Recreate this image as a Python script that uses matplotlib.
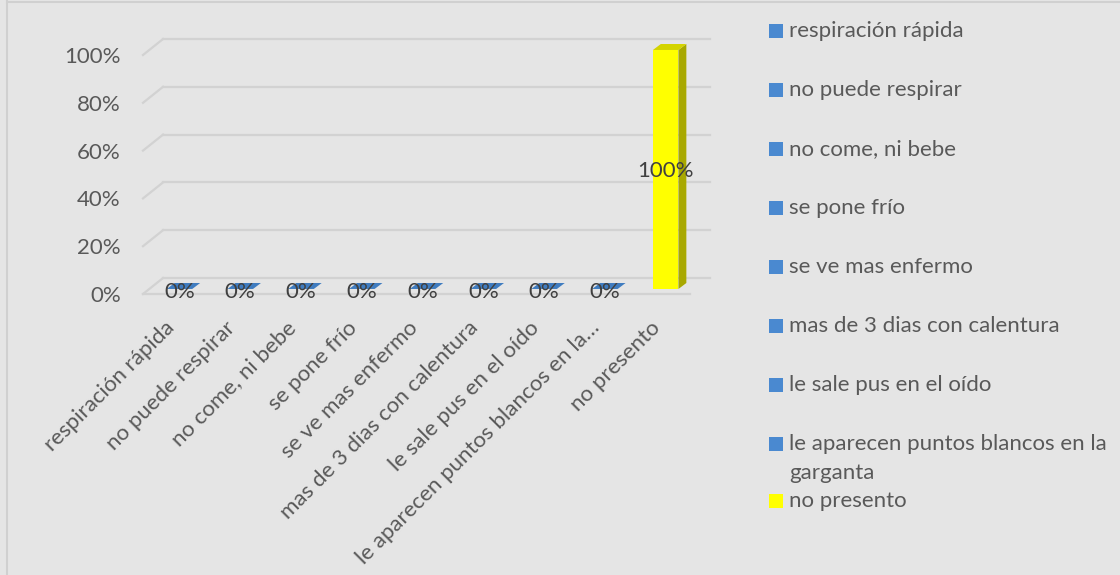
import matplotlib
matplotlib.use('Agg')
import matplotlib.pyplot as plt
from matplotlib.patches import Rectangle, Polygon
from matplotlib.lines import Line2D
import numpy as np

categorias = ['respiración rápida', 'no puede respirar', 'no come, ni bebe',
              'se pone frío', 'se ve mas enfermo', 'mas de 3 dias con calentura',
              'le sale pus en el oído', 'le aparecen puntos blancos en la garganta',
              'no presento']
etiquetas_x = ['respiración rápida', 'no puede respirar', 'no come, ni bebe',
               'se pone frío', 'se ve mas enfermo', 'mas de 3 dias con calentura',
               'le sale pus en el oído', 'le aparecen puntos blancos en la…',
               'no presento']
etiquetas_leyenda = ['respiración rápida', 'no puede respirar', 'no come, ni bebe',
                     'se pone frío', 'se ve mas enfermo', 'mas de 3 dias con calentura',
                     'le sale pus en el oído', 'le aparecen puntos blancos en la\ngarganta',
                     'no presento']
valores = [0, 0, 0, 0, 0, 0, 0, 0, 1.0]
colores = ['#4a89d0'] * 8 + ['#ffff00']
colores_lado = ['#3a6ea8'] * 8 + ['#a8a800']
colores_techo = ['#3f7cc0'] * 8 + ['#d4d400']
yticks = [0, 0.2, 0.4, 0.6, 0.8, 1.0]

fondo = '#e5e5e5'
gris_txt = '#595959'
gris_grid = '#d2d2d2'
fuente = 'Lato'
fs = 16

fig = plt.figure(figsize=(11.2, 5.75), dpi=100, facecolor=fondo)
ax = fig.add_axes([143 / 1120, (575 - 294) / 575, (690 - 143) / 1120, (294 - 55) / 575])
ax.set_facecolor('none')
n = len(categorias)
x = np.arange(n)
ax.set_xlim(-0.5, n - 0.5)
ax.set_ylim(0, 1)
for s in ax.spines.values():
    s.set_visible(False)

# profundidad (en unidades de datos)
bdx, bdy = 0.33, 0.067     # pared del fondo
sdx, sdy = 0.10, 0.021     # desplazamiento de las barras
ddx, ddy = 0.13, 0.025     # grosor de las barras
w = 0.42

# rejilla: pared trasera + pared lateral + suelo
for yv in yticks:
    ax.add_line(Line2D([-0.5 + bdx, n - 0.5 + bdx], [yv + bdy, yv + bdy],
                       color=gris_grid, lw=1.6, clip_on=False, zorder=1))
    ax.add_line(Line2D([-0.5, -0.5 + bdx], [yv, yv + bdy],
                       color=gris_grid, lw=1.6, clip_on=False, zorder=1))
ax.add_line(Line2D([-0.5, n - 0.5], [0, 0], color=gris_grid, lw=1.6,
                   clip_on=False, zorder=1))

# barras 3D
for xi, v, c, cl, ct in zip(x, valores, colores, colores_lado, colores_techo):
    x0 = xi - w / 2 + sdx
    x1 = x0 + w
    y0 = sdy
    y1 = v + sdy
    if v > 0:
        ax.add_patch(Polygon([[x1, y0], [x1 + ddx, y0 + ddy], [x1 + ddx, y1 + ddy], [x1, y1]],
                             closed=True, fc=cl, ec='none', clip_on=False, zorder=3))
        ax.bar(xi + sdx, v, bottom=sdy, width=w, color=c, zorder=4, clip_on=False)
    ax.add_patch(Polygon([[x0, y1], [x1, y1], [x1 + ddx, y1 + ddy], [x0 + ddx, y1 + ddy]],
                         closed=True, fc=ct, ec='none', clip_on=False, zorder=4))
    ax.text(xi + sdx, y0 + v / 2 + (-0.005 if v > 0 else -0.012), f'{v:.0%}',
            ha='center', va='center', fontsize=fs, color='#404040',
            family=fuente, zorder=5)

ax.set_yticks(yticks)
ax.set_yticklabels([f'{t:.0%}' for t in yticks], family=fuente, fontsize=fs, color=gris_txt)
ax.tick_params(axis='y', length=0, pad=16)

ax.set_xticks(x - 0.15)
ax.set_xticklabels(etiquetas_x, rotation=45, ha='right', rotation_mode='anchor',
                   family=fuente, fontsize=fs, color=gris_txt)
ax.tick_params(axis='x', length=0, pad=17)

# leyenda
ypos = 31
for i, (lab, c) in enumerate(zip(etiquetas_leyenda, colores)):
    fig.add_artist(Rectangle((769 / 1120, 1 - (ypos + 7) / 575), 14 / 1120, 14 / 575,
                             transform=fig.transFigure, fc=c, ec='none'))
    for k, linea in enumerate(lab.split('\n')):
        fig.text(789 / 1120, 1 - (ypos + 29 * k) / 575, linea, ha='left', va='center',
                 family=fuente, fontsize=fs, color=gris_txt)
    ypos += 59 if i < 7 else 57

# borde del gráfico
fig.add_artist(Line2D([7 / 1120, 7 / 1120], [0, 1 - 1 / 575], transform=fig.transFigure,
                      color='#d0d0d0', lw=1.5))
fig.add_artist(Line2D([7 / 1120, 1], [1 - 1.5 / 575, 1 - 1.5 / 575], transform=fig.transFigure,
                      color='#d0d0d0', lw=1.5))

fig.savefig('out.png', dpi=100, facecolor=fondo)
